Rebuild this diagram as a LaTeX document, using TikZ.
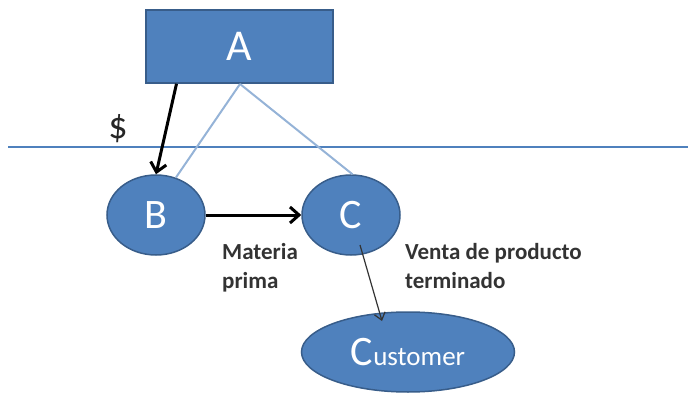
\documentclass[tikz,border=0pt]{standalone}
\usepackage{fontspec}
\setmainfont{Carlito}
\usetikzlibrary{shapes.geometric,arrows.meta}
\definecolor{fillb}{HTML}{4F81BD}
\definecolor{edgeb}{HTML}{385D8A}
\definecolor{lineb}{HTML}{95B3D7}
\begin{document}
\begin{tikzpicture}[x=1pt,y=-1pt,
  box/.style={draw=edgeb,line width=1.5pt,fill=fillb,text=white,font=\fontsize{44}{46}\selectfont,inner sep=0pt},
  ell/.style={ellipse,draw=edgeb,line width=1.5pt,fill=fillb,text=white,inner sep=0pt},
  thick arrow/.style={line width=3pt,-{Straight Barb[length=9pt,width=16pt]}},
  lbl/.style={font=\fontsize{23}{29}\selectfont\bfseries,text=black!80,align=left,inner sep=0pt,anchor=north west}]
\useasboundingbox (0,0) rectangle (688,393);
\node[box,minimum width=187pt,minimum height=73pt] (A) at (239.5,46.5) {A};
\coordinate (L1) at (8,147);
\coordinate (L2) at (688,147);
\draw[fillb,line width=1.2pt] (L1) -- (L2);
\node[font=\fontsize{38}{40}\selectfont,text=black!85] (S) at (118,129) {\$};
\node[ell,minimum width=98pt,minimum height=80pt,font=\fontsize{42}{44}\selectfont] (B) at (156,215) {B};
\node[ell,minimum width=98pt,minimum height=80pt,font=\fontsize{42}{44}\selectfont] (C) at (351,215) {C};
\node[ell,minimum width=213pt,minimum height=80pt] (D) at (408,352) {\fontsize{42}{44}\selectfont C\fontsize{27}{29}\selectfont ustomer};
\coordinate (Atop) at (240,84);
\draw[lineb,line width=2pt] (Atop) -- (B.62);
\draw[lineb,line width=2pt] (Atop) -- (C.88);
\draw[thick arrow] ([xshift=-63pt]A.south) -- (B.north);
\draw[thick arrow] (B.east) -- (C.west);
\coordinate (E) at (382,321);
\draw[line width=1.2pt,black!80,-{Straight Barb[length=7pt,width=11pt]}] ([shift={(9pt,-30pt)}]C.center) -- (E);
\node[lbl] (M) at (222,243) {Materia\\prima};
\node[lbl] (V) at (405,243) {Venta de producto\\terminado};
\end{tikzpicture}
\end{document}
